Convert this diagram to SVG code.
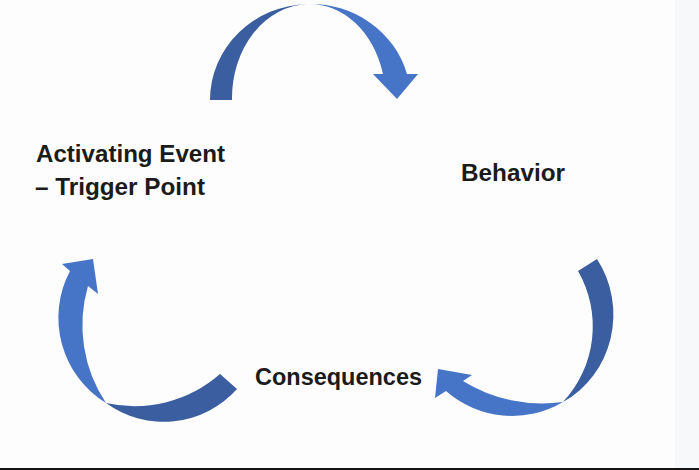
<svg xmlns="http://www.w3.org/2000/svg" width="699" height="470" viewBox="0 0 699 470">
<style>
.back{fill:#3a5e9f}
.front{fill:#4674c6}
.lbl{font-family:"Liberation Sans",Arial,sans-serif;font-weight:bold;font-size:23px;fill:#1b1b1b}
</style>
<rect x="0" y="0" width="699" height="470" fill="#fdfdfd"/>
<rect x="675" y="0" width="24" height="470" fill="#f7f8fa"/>
<rect x="0" y="468" width="699" height="2" fill="#141414"/>
<g id="connectors">
  <g id="arrow-top">
    <path class="back" d="M210,100 A100,96 0 0 1 308,4 A78,94 0 0 0 232,100 Z"/>
    <path class="front" d="M308,4 A100,96 0 0 1 407,74 L418,74 L397,99 L373,74 L383,74 A76,95 0 0 0 308,4 Z"/>
  </g>
  <g id="arrow-right">
    <path class="back" d="M578,271 L597,259 A95,99 0 0 1 563,402 A111,111 0 0 0 578,271 Z"/>
    <path class="front" d="M563,402 A100,100 0 0 1 446,391 L435,398 L438,369 L472,375 L463,381 A150,150 0 0 0 563,402 Z"/>
  </g>
  <g id="arrow-left">
    <path class="back" d="M220,374 L237,389 A98,98 0 0 1 106,403 A130,130 0 0 0 220,374 Z"/>
    <path class="front" d="M106,403 A100,100 0 0 1 70,271 L62,264 L93,259 L98,294 L88,286 A140,140 0 0 0 106,403 Z"/>
  </g>
</g>
<g id="node-activating">
  <text class="lbl" x="36" y="162" textLength="189" lengthAdjust="spacingAndGlyphs">Activating Event</text>
  <text class="lbl" x="35" y="195" textLength="170" lengthAdjust="spacingAndGlyphs">– Trigger Point</text>
</g>
<g id="node-behavior">
  <text class="lbl" x="461" y="181" textLength="104" lengthAdjust="spacingAndGlyphs">Behavior</text>
</g>
<g id="node-consequences">
  <text class="lbl" x="255" y="385" textLength="167" lengthAdjust="spacingAndGlyphs">Consequences</text>
</g>
</svg>
